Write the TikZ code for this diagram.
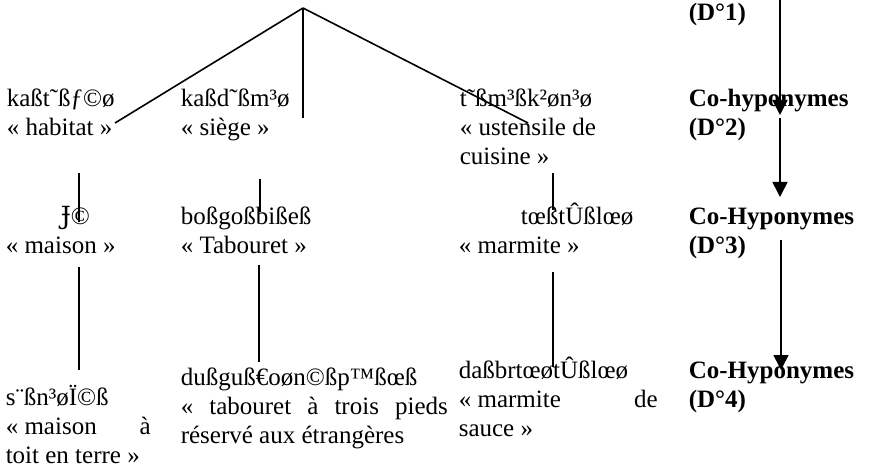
\documentclass[tikz,border=0pt]{standalone}
\usepackage{fontspec}
\setmainfont{Liberation Serif}
\newfontfamily\barfont{DejaVu Serif}
\usetikzlibrary{arrows.meta,positioning}

\begin{document}
\begin{tikzpicture}[x=1pt, y=-1pt, line width=1.6pt,
  lex/.style={anchor=base west, inner sep=0pt, align=left, font=\fontsize{25}{29}\selectfont},
  deg/.style={lex, font=\fontsize{25}{29}\selectfont\bfseries},
  down/.style={-{Triangle[width=15pt,length=15pt]}}]
\useasboundingbox (0,0) rectangle (870,470);

% first level (base = last line)
\node[lex] (hab) at (6,136) {kaßt˜ßƒ©ø\\«~habitat~»};
\node[lex] (sie) at (180,136) {kaßd˜ßm³ø\\«~siège~»};
\node[lex] (ust) at (459,165) {t˜ßm³ßk²øn³ø\\«~ustensile de\\cuisine~»};
% second level
\node[lex] (mai) at (5,254) {\hspace*{55pt}{\barfont Ɉ}©\\«~maison~»};
\node[lex] (tab) at (180,254) {boßgoßbißeß\\«~Tabouret~»};
\node[lex] (mar) at (458,254) {\hspace*{62pt}tœßtÛßlœø\\«~marmite~»};
% third level
\node[lex] (mtt) at (5,463) {s¨ßn³øÏ©ß\\\makebox[145pt][l]{«~maison\hfill à}\\toit en terre~»};
\node[lex] (tbt) at (180,443) {dußguß€oøn©ßp™ßœß\\\makebox[267pt][s]{«~tabouret à trois pieds}\\réservé aux étrangères};
\node[lex] (mds) at (458,436) {daßbrtœøtÛßlœø\\\makebox[199pt][l]{«~marmite\hfill de}\\sauce~»};
% degrees
\node[deg] (d1) at (688,21) {(D°1)};
\node[deg] (d2) at (688,136) {Co-hyponymes\\(D°2)};
\node[deg] (d3) at (688,254) {Co-Hyponymes\\(D°3)};
\node[deg] (d4) at (688,407) {Co-Hyponymes\\(D°4)};

% tree
\coordinate (top) at (303,8);
\coordinate (hab-in) at (115,123);
\coordinate (sie-in) at (303,118);
\coordinate (ust-in) at (528,123);
\path (top) edge (hab-in) edge (sie-in) edge (ust-in);

\coordinate (hab-out) at (79,173);  \coordinate (mai-in) at (79,222);
\coordinate (sie-out) at (260,179); \coordinate (tab-in) at (260,212);
\coordinate (ust-out) at (553,173); \coordinate (mar-in) at (553,210);
\coordinate (mai-out) at (79,267);  \coordinate (mtt-in) at (79,370);
\coordinate (tab-out) at (259,265); \coordinate (tbt-in) at (259,362);
\coordinate (mar-out) at (553,272); \coordinate (mds-in) at (553,367);
\path (hab-out) edge (mai-in)
  (sie-out) edge (tab-in)
  (ust-out) edge (mar-in)
  (mai-out) edge (mtt-in)
  (tab-out) edge (tbt-in)
  (mar-out) edge (mds-in);

% degree arrows
\coordinate (d1-out) at (780,0);   \coordinate (d2-in) at (780,115);
\coordinate (d2-out) at (780,118); \coordinate (d3-in) at (780,197);
\coordinate (d3-out) at (781,240); \coordinate (d4-in) at (781,370);
\path[down] (d1-out) edge (d2-in)
  (d2-out) edge (d3-in)
  (d3-out) edge (d4-in);
\end{tikzpicture}
\end{document}
